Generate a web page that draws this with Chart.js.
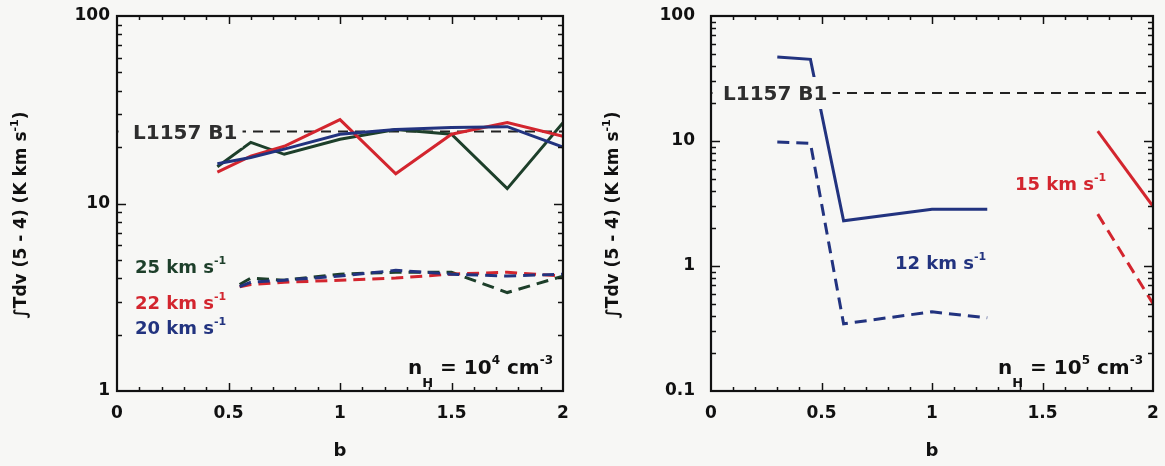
<!DOCTYPE html>
<html><head><meta charset="utf-8">
<script src="https://cdn.jsdelivr.net/npm/chart.js@4.4.0/dist/chart.umd.min.js"></script>
<style>
html,body{margin:0;padding:0;background:#f7f7f5;}
#wrap{position:relative;width:1165px;height:466px;overflow:hidden;}
canvas{position:absolute;top:0;}
</style></head><body>
<div id="wrap">
<canvas id="c1" width="580" height="466" style="left:0"></canvas>
<canvas id="c2" width="585" height="466" style="left:580px"></canvas>
</div>
<script>
// ---------- data: left panel (n_H = 1e4) ----------
const bSolid    = [0.45, 0.6, 0.75, 1.0, 1.25, 1.5, 1.75, 2.0];
const v25Solid  = [15.7, 21.2, 18.3, 22.0, 24.8, 23.4, 12.0, 27.0];
const v22Solid  = [14.7, 17.9, 20.2, 28.0, 14.4, 23.4, 27.0, 22.8];
const v20Solid  = [16.3, 17.6, 19.5, 23.4, 24.8, 25.4, 25.7, 20.0];
const bDashed   = [0.55, 0.6, 0.75, 1.0, 1.25, 1.5, 1.75, 2.0];
const v25Dashed = [3.7, 4.0, 3.9, 4.2, 4.3, 4.3, 3.35, 4.1];
const v22Dashed = [3.6, 3.7, 3.8, 3.9, 4.0, 4.2, 4.3, 4.1];
const v20Dashed = [3.6, 3.8, 3.9, 4.1, 4.4, 4.2, 4.1, 4.2];
// ---------- data: right panel (n_H = 1e5) ----------
const b12       = [0.3, 0.45, 0.6, 1.0, 1.25];
const v12Solid  = [47, 45, 2.3, 2.85, 2.85];
const v12Dashed = [9.8, 9.6, 0.345, 0.43, 0.385];
const b15       = [1.75, 2.0];
const v15Solid  = [12, 3.0];
const v15Dashed = [2.6, 0.5];
// ---------- observed reference ----------
const bRef = [0, 2];
const L1157B1 = 24.2;
// ---------- ticks ----------
const xTicks = [0, 0.5, 1, 1.5, 2];
const yTicksLeft = [1, 10, 100];
const yTicksRight = [0.1, 1, 10, 100];

const GREEN = '#1d3f2a', RED = '#d3252e', BLUE = '#22337f', INK = '#111';
const FONT = '"DejaVu Sans", "Liberation Sans", sans-serif';

function pts(xs, ys){ return xs.map((x,i)=>({x:x, y:ys[i]})); }
function ds(label, xs, ys, color, dashed, order){
  return {label, data: pts(xs, ys), borderColor: color, backgroundColor: color,
    borderWidth: 3, borderDash: dashed ? [12, 7] : [], pointRadius: 0,
    tension: 0, fill: false, order: order || 0};
}
function refDs(){
  return {label:'L1157 B1', data: pts(bRef, bRef.map(()=>L1157B1)), borderColor:'#222',
    borderWidth: 2, borderDash:[10,7], pointRadius:0, order: 10};
}

function rich(ctx, x, y, parts, color){
  ctx.save(); ctx.fillStyle = color; ctx.textAlign='left'; ctx.textBaseline='alphabetic';
  let cx = x;
  for (const p of parts){
    ctx.font = (p.w||'bold') + ' ' + p.s + 'px ' + FONT;
    ctx.fillText(p.t, cx, y + (p.dy||0));
    cx += ctx.measureText(p.t).width;
  }
  ctx.restore();
  return cx - x;
}
function richWidth(ctx, parts){
  let w = 0;
  ctx.save();
  for (const p of parts){ ctx.font = (p.w||'bold') + ' ' + p.s + 'px ' + FONT; w += ctx.measureText(p.t).width; }
  ctx.restore(); return w;
}
function kms(v){ return [{t: v + ' km s', s:18}, {t:'-1', s:11, dy:-9}]; }

const frame = {
  id:'frame',
  afterDraw(chart){
    const {ctx, chartArea:a, scales:{x, y}} = chart;
    ctx.save(); ctx.strokeStyle = INK; ctx.lineWidth = 1.5;
    const ln = (x1,y1,x2,y2)=>{ ctx.beginPath(); ctx.moveTo(x1,y1); ctx.lineTo(x2,y2); ctx.stroke(); };
    for (let i=1;i<20;i++){
      const px = Math.round(x.getPixelForValue(i/10)) + 0.5;
      const L = i%5===0 ? 8 : 4;
      ln(px, a.bottom, px, a.bottom - L); ln(px, a.top, px, a.top + L);
    }
    const lo = Math.round(Math.log10(y.min)), hi = Math.round(Math.log10(y.max));
    for (let k=lo;k<hi;k++) for (let m=1;m<=9;m++){
      if (k===lo && m===1) continue;
      const py = Math.round(y.getPixelForValue(m*Math.pow(10,k))) + 0.5;
      const L = m===1 ? 9 : 5;
      ln(a.left, py, a.left + L, py); ln(a.right, py, a.right - L, py);
    }
    ctx.lineWidth = 2.2;
    ctx.strokeRect(a.left, a.top, a.right - a.left, a.bottom - a.top);
    ctx.restore();
  }
};

function annotations(cfg){
  return {
    id:'ann',
    afterDatasetsDraw(chart){
      const {ctx, chartArea:a, scales:{x,y}} = chart;
      const lp = [{t:'L1157 B1', s:20, w:'bold'}];
      const ly = y.getPixelForValue(L1157B1);
      const lw = richWidth(ctx, lp);
      ctx.save(); ctx.fillStyle = '#f7f7f5';
      ctx.fillRect(a.left + 1.5, ly - 16, cfg.refX + lw + 5 - a.left - 1.5, 32);
      ctx.restore();
      rich(ctx, cfg.refX, ly + 7, lp, '#2e2e2e');
      for (const t of cfg.texts) rich(ctx, t.x, t.y, t.parts, t.c);
      const nh = [{t:'n', s:20}, {t:'H', s:13, dy:13}, {t:' = 10', s:20}, {t:cfg.exp, s:12, dy:-10},
                  {t:' cm', s:20}, {t:'-3', s:12, dy:-10}];
      const w = richWidth(ctx, nh);
      rich(ctx, a.right - 10 - w, 374, nh, INK);
      const yt = [{t:'\u222BTdv (5 - 4) (K km s', s:17}, {t:'-1', s:11, dy:-8}, {t:')', s:17}];
      const tw = richWidth(ctx, yt);
      ctx.save(); ctx.translate(cfg.ytX, 215); ctx.rotate(-Math.PI/2);
      rich(ctx, -tw/2, 6, yt, INK);
      ctx.restore();
      ctx.save(); ctx.fillStyle = INK; ctx.font = 'bold 18px ' + FONT; ctx.textAlign='center'; ctx.textBaseline='middle';
      ctx.fillText('b', (a.left + a.right)/2, 451);
      ctx.restore();
    }
  };
}

function makeChart(id, datasets, yMin, yMax, yTicks, leftW, right, tickPad, cfg){
  const canvas = document.getElementById(id);
  return new Chart(canvas, {
    type:'line',
    data:{datasets},
    options:{
      responsive:false, animation:false, devicePixelRatio:1,
      layout:{padding:{left:0, right:canvas.width - right, top:16, bottom:0}},
      plugins:{legend:{display:false}, tooltip:{enabled:false}},
      scales:{
        x:{type:'linear', min:0, max:2,
          grid:{display:false, drawTicks:false}, border:{display:false},
          afterBuildTicks:(s)=>{ s.ticks = xTicks.map(v=>({value:v})); },
          afterFit:(s)=>{ s.height = 75; s.paddingLeft = 0; s.paddingRight = 0; },
          ticks:{font:{family:FONT, size:17, weight:'bold'}, color:INK, padding:12, maxRotation:0,
                 callback:(v)=>String(v)}},
        y:{type:'logarithmic', min:yMin, max:yMax,
          grid:{display:false, drawTicks:false}, border:{display:false},
          afterBuildTicks:(s)=>{ s.ticks = yTicks.map(v=>({value:v})); },
          afterFit:(s)=>{ s.width = leftW; s.paddingTop = 0; s.paddingBottom = 0; },
          ticks:{font:{family:FONT, size:17, weight:'bold'}, color:INK, padding:tickPad,
                 callback:(v)=>String(v)}}
      }
    },
    plugins:[frame, annotations(cfg)]
  });
}

makeChart('c1', [
  refDs(),
  ds('25 km/s', bSolid, v25Solid, GREEN, false, 3),
  ds('22 km/s', bSolid, v22Solid, RED, false, 2),
  ds('20 km/s', bSolid, v20Solid, BLUE, false, 1),
  ds('25 km/s dashed', bDashed, v25Dashed, GREEN, true, 3),
  ds('22 km/s dashed', bDashed, v22Dashed, RED, true, 2),
  ds('20 km/s dashed', bDashed, v20Dashed, BLUE, true, 1)
], 1, 100, yTicksLeft, 117, 563, 7, {
  refX: 133, exp:'4', ytX: 20,
  texts: [
    {x:135, y:273, parts:kms(25), c:GREEN},
    {x:135, y:309, parts:kms(22), c:RED},
    {x:135, y:334, parts:kms(20), c:BLUE}
  ]
});

makeChart('c2', [
  refDs(),
  ds('12 km/s', b12, v12Solid, BLUE, false, 1),
  ds('12 km/s dashed', b12, v12Dashed, BLUE, true, 1),
  ds('15 km/s', b15, v15Solid, RED, false, 2),
  ds('15 km/s dashed', b15, v15Dashed, RED, true, 2)
], 0.1, 100, yTicksRight, 131, 573, 16, {
  refX: 143, exp:'5', ytX: 32,
  texts: [
    {x:315, y:269, parts:kms(12), c:BLUE},
    {x:435, y:190, parts:kms(15), c:RED}
  ]
});
</script>
</body></html>
